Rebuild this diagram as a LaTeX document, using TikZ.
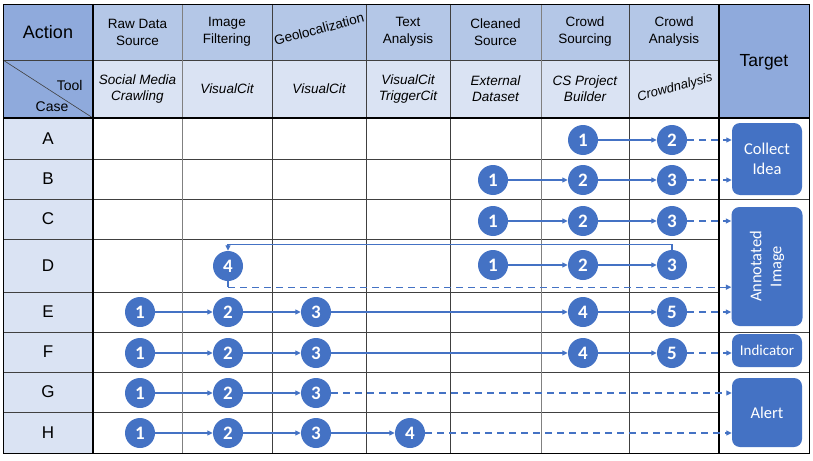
\documentclass[tikz,border=0pt]{standalone}
\usepackage{fontspec}
\setmainfont{Liberation Sans}
\newfontfamily\calfont{Carlito}
\usetikzlibrary{arrows.meta}
\definecolor{hdr}{HTML}{B4C7E7}
\definecolor{hdrdark}{HTML}{8FAADC}
\definecolor{lightcell}{HTML}{DAE3F3}
\definecolor{nodeblue}{HTML}{4472C4}
\begin{document}
\begin{tikzpicture}[x=1pt,y=-1pt,
  num/.style={circle, fill=nodeblue, minimum size=30pt, inner sep=0pt, text=white,
    font=\calfont\bfseries\fontsize{19}{19}\selectfont},
  tgt/.style={rounded corners=8pt, fill=nodeblue, text=white, align=center, inner sep=0pt,
    font=\calfont\fontsize{16.5}{20}\selectfont},
  flow/.style={nodeblue, line width=1.3pt, -{Triangle[length=5.5pt,width=5pt]}},
  dflow/.style={flow, dash pattern=on 7pt off 5pt},
  gridline/.style={black!75, line width=0.6pt},
  sepline/.style={black, line width=1.4pt},
  hd/.style={align=center, font=\fontsize{13.5}{17}\selectfont},
  tl/.style={align=center, font=\itshape\fontsize{13.5}{16}\selectfont},
  cs/.style={font=\fontsize{17}{17}\selectfont},
]
\useasboundingbox (0,0) rectangle (813,460);
% fills
\fill[white] (0,0) rectangle (813,460);
\fill[hdrdark] (3,4) rectangle (93,118);
\fill[hdr] (93,4) rectangle (719,60);
\fill[lightcell] (93,60) rectangle (719,118);
\fill[lightcell] (3,118) rectangle (93,453);
\fill[hdrdark] (719,4) rectangle (809,118);
% grid
\foreach \yy in {159,239,292,412} \draw[gridline] (3,\yy) -- (719,\yy);
\foreach \yy in {199,332,372} \draw[gridline] (3,\yy) -- (809,\yy);
\draw[gridline] (3,60) -- (719,60);
\foreach \xx in {182,541} \draw[black!50, line width=0.6pt] (\xx,4) -- (\xx,453);
\foreach \xx in {272,366,450,629} \draw[gridline] (\xx,4) -- (\xx,453);
\draw[gridline] (3,60) -- (93,118);
\draw[sepline] (3,118) -- (809,118);
\draw[sepline] (93,4) -- (93,453);
\draw[black, line width=1.8pt] (719,4) -- (719,453);
\draw[black, line width=0.8pt] (3,4) rectangle (809,453);
% header texts
\node[font=\fontsize{18}{18}\selectfont] (hact) at (48,32) {Action};
\node[hd] (h1) at (137.5,32) {Raw Data\\Source};
\node[hd] (h2) at (227,32) {Image\\Filtering};
\node[hd, rotate=15] (h3) at (319,29) {Geolocalization};
\node[hd] (h4) at (408,32) {Text\\Analysis};
\node[hd] (h5) at (495.5,32) {Cleaned\\Source};
\node[hd] (h6) at (585,32) {Crowd\\Sourcing};
\node[hd] (h7) at (674,32) {Crowd\\Analysis};
\node[font=\fontsize{17.5}{17.5}\selectfont] (htgt) at (764,62) {Target};
\node[font=\fontsize{14}{14}\selectfont, anchor=east] (htool) at (86,85) {Tool};
\node[font=\fontsize{14}{14}\selectfont] (hcase) at (52,107) {Case};
\node[tl] (t1) at (137.5,89) {Social Media\\Crawling};
\node[tl] (t2) at (227,89) {VisualCit};
\node[tl] (t3) at (319,89) {VisualCit};
\node[tl] (t4) at (408,89) {VisualCit\\TriggerCit};
\node[tl] (t5) at (495.5,89) {External\\Dataset};
\node[tl] (t6) at (585,89) {CS Project\\Builder};
\node[tl, rotate=15, inner sep=1pt, font=\itshape\fontsize{13}{15}\selectfont] (t7) at (675,88) {Crowdnalysis};
% case letters
\node[cs] (ca) at (48,139) {A};
\node[cs] (cb) at (48,179) {B};
\node[cs] (cc) at (48,219) {C};
\node[cs] (cd) at (48,266) {D};
\node[cs] (ce) at (48,312) {E};
\node[cs] (cf) at (48,352) {F};
\node[cs] (cg) at (48,392) {G};
\node[cs] (ch) at (48,433) {H};
% targets
\node[tgt, minimum width=70pt, minimum height=72pt] (collect) at (767,159) {Collect\\Idea};
\node[tgt, rotate=90, minimum width=119pt, minimum height=71pt] (annot) at (767,266.5) {Annotated\\Image};
\node[tgt, minimum width=70pt, minimum height=33pt, font=\calfont\fontsize{15}{15}\selectfont] (indic) at (767,350.5) {Indicator};
\node[tgt, minimum width=70pt, minimum height=69pt] (alert) at (767,412.5) {Alert};
% row A
\node[num] (a1) at (583,140) {1};
\node[num] (a2) at (672,140) {2};
\draw[flow] (a1) -- (a2);
\draw[dflow] (a2) -- (a2 -| collect.west);
% row B
\node[num] (b1) at (493,180) {1};
\node[num] (b2) at (583,180) {2};
\node[num] (b3) at (672,180) {3};
\draw[flow] (b1) -- (b2);
\draw[flow] (b2) -- (b3);
\draw[dflow] (b3) -- (b3 -| collect.west);
% row C
\node[num] (c1) at (493,221) {1};
\node[num] (c2) at (583,221) {2};
\node[num] (c3) at (672,221) {3};
\draw[flow] (c1) -- (c2);
\draw[flow] (c2) -- (c3);
\draw[dflow] (c3) -- (c3 -| annot.north);
% row D
\node[num] (d4) at (228,266) {4};
\node[num] (d1) at (493,265) {1};
\node[num] (d2) at (583,265) {2};
\node[num] (d3) at (672,265) {3};
\draw[flow] (d1) -- (d2);
\draw[flow] (d2) -- (d3);
\draw[flow] (d3.north) -- ++(0,-5) -| (d4.north);
\draw[nodeblue, line width=1.3pt] (d4.south) -- ++(0,6) coordinate (dturn);
\draw[dflow] (dturn) -- (dturn -| annot.north);
% row E
\node[num] (e1) at (140,312) {1};
\node[num] (e2) at (228,312) {2};
\node[num] (e3) at (316,312) {3};
\node[num] (e4) at (583,312) {4};
\node[num] (e5) at (672,312) {5};
\draw[flow] (e1) -- (e2);
\draw[flow] (e2) -- (e3);
\draw[flow] (e3) -- (e4);
\draw[flow] (e4) -- (e5);
\draw[dflow] (e5) -- (e5 -| annot.north);
% row F
\node[num] (f1) at (140,353) {1};
\node[num] (f2) at (228,353) {2};
\node[num] (f3) at (316,353) {3};
\node[num] (f4) at (583,353) {4};
\node[num] (f5) at (672,353) {5};
\draw[flow] (f1) -- (f2);
\draw[flow] (f2) -- (f3);
\draw[flow] (f3) -- (f4);
\draw[flow] (f4) -- (f5);
\draw[dflow] (f5) -- (f5 -| indic.west);
% row G
\node[num] (g1) at (140,393) {1};
\node[num] (g2) at (228,393) {2};
\node[num] (g3) at (316,393) {3};
\draw[flow] (g1) -- (g2);
\draw[flow] (g2) -- (g3);
\draw[dflow] (g3) -- (g3 -| alert.west);
% row H
\node[num] (h1n) at (140,433) {1};
\node[num] (h2n) at (228,433) {2};
\node[num] (h3n) at (316,433) {3};
\node[num] (h4n) at (410,433) {4};
\draw[flow] (h1n) -- (h2n);
\draw[flow] (h2n) -- (h3n);
\draw[flow] (h3n) -- (h4n);
\draw[dflow] (h4n) -- (h4n -| alert.west);
\end{tikzpicture}
\end{document}
